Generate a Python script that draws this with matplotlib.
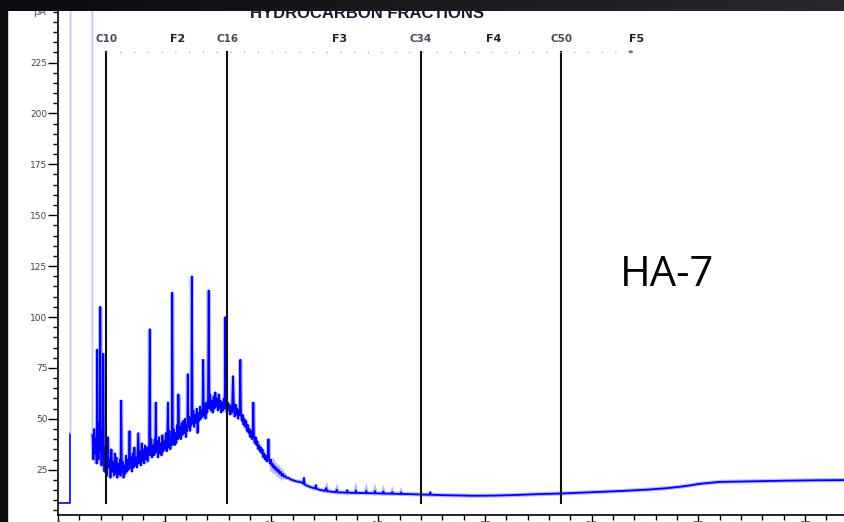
import matplotlib
matplotlib.use("Agg")
import matplotlib.pyplot as plt
import numpy as np
from matplotlib.colors import LinearSegmentedColormap
from matplotlib.patches import Rectangle
from matplotlib.ticker import MultipleLocator

# Fraction boundaries (retention time, min) and labels
cut_names = ["C10", "C16", "C34", "C50"]
cut_times = [2.27, 7.94, 17.0, 23.57]
frac_names = ["F2", "F3", "F4", "F5"]
frac_times = [5.62, 13.2, 20.4, 27.08]
sample_name = "HA-7"

# y tick values (pA)
y_ticks = [25, 50, 75, 100, 125, 150, 175, 200, 225]

# Start of the run: baseline then the solvent front
pre_time = [0.0, 0.585, 0.585]
pre_pa = [8.6, 8.6, 43]

# Solvent peak, off scale
solvent_time = [0.585, 0.59, 1.61, 1.615]
solvent_pa = [43, 400, 400, 42]

# Chromatogram after the solvent peak
trace_time = [
    1.62, 1.66, 1.70, 1.74, 1.78, 1.81, 1.84, 1.87, 1.90, 1.93, 1.96, 1.98, 2.01, 2.04,
    2.07, 2.10, 2.12, 2.15, 2.18, 2.21, 2.24, 2.27, 2.30,
    2.34, 2.38, 2.42, 2.46, 2.50, 2.54, 2.58, 2.62, 2.66, 2.70, 2.74, 2.78, 2.82, 2.86,
    2.90, 2.93, 2.96, 2.99, 3.03, 3.07, 3.11, 3.15, 3.19, 3.23, 3.27,
    3.31, 3.35, 3.38, 3.42, 3.46, 3.50, 3.54, 3.58, 3.62, 3.66, 3.70, 3.76, 3.80, 3.84,
    3.88, 3.92, 3.96, 4.00, 4.04, 4.08, 4.12, 4.16, 4.20, 4.24,
    4.27, 4.30, 4.33, 4.37, 4.41, 4.45, 4.49, 4.53, 4.56, 4.58, 4.61, 4.65, 4.69, 4.73,
    4.77, 4.81, 4.85, 4.89, 4.93, 4.97,
    5.01, 5.05, 5.09, 5.12, 5.15, 5.18, 5.22, 5.26, 5.30, 5.33, 5.35, 5.38, 5.42, 5.46,
    5.50, 5.54, 5.58, 5.62, 5.64, 5.67,
    5.71, 5.75, 5.79, 5.83, 5.87, 5.91, 5.95, 5.99, 6.03, 6.06, 6.08, 6.11, 6.15, 6.19,
    6.23, 6.25, 6.27, 6.30, 6.34, 6.38, 6.42, 6.46, 6.50, 6.54, 6.58, 6.62, 6.66, 6.70,
    6.74, 6.77, 6.80, 6.83,
    6.87, 6.91, 6.95, 6.99, 7.03, 7.06, 7.09, 7.13, 7.17, 7.21, 7.25, 7.29, 7.33, 7.37,
    7.41, 7.45, 7.49, 7.53, 7.57, 7.61, 7.65, 7.69, 7.73, 7.77, 7.81, 7.84, 7.87, 7.91, 7.95,
    7.99, 8.03, 8.07, 8.11, 8.15, 8.20, 8.24, 8.28, 8.32, 8.36, 8.40, 8.44, 8.48, 8.51,
    8.54, 8.57, 8.61, 8.65, 8.69, 8.73, 8.77, 8.81, 8.85, 8.89, 8.93, 8.97, 9.01, 9.05,
    9.09, 9.12, 9.15, 9.18, 9.22, 9.26, 9.30, 9.34, 9.38, 9.42, 9.46,
    9.50, 9.54, 9.58, 9.62, 9.66, 9.70, 9.74, 9.78, 9.82, 9.86, 9.89, 9.93, 9.97, 10.01,
    10.05, 10.09, 10.13, 10.18, 10.23, 10.28, 10.33, 10.38, 10.43, 10.48, 10.53, 10.58,
    10.64, 10.70, 10.78, 10.86, 10.94, 11.02, 11.10, 11.20, 11.30,
    11.40, 11.50, 11.52, 11.55, 11.70, 11.90, 12.05, 12.08, 12.11, 12.30, 12.50, 12.57,
    12.60, 12.80, 13.00, 13.06, 13.09, 13.30, 13.52, 13.55, 13.58, 13.92, 13.95, 13.98,
    14.41, 14.44, 14.47, 14.82, 14.85, 14.88, 15.21, 15.24, 15.27, 15.63, 15.66, 15.69,
    16.04, 16.07, 16.10, 16.50, 17.00, 17.41, 17.44, 17.47, 18.0, 19.0, 19.5, 20.5,
    21.5, 22.5, 23.57, 24.5, 25.5, 26.5, 27.6, 28.5, 29.2, 29.8, 30.0, 31.0, 32.5, 34.1,
    35.5, 36.8,
]
trace_pa = [
    42, 30, 45, 33, 40, 28, 84, 36, 30, 48, 34, 105, 38, 27,
    44, 32, 82, 30, 24, 36, 26, 33, 22,
    41, 26, 30, 21, 35, 24, 29, 22, 33, 23, 31, 21, 28, 23,
    30, 22, 59, 24, 29, 21, 27, 23, 32, 24, 30,
    25, 44, 26, 31, 24, 33, 26, 36, 27, 31, 26, 43, 28, 34,
    27, 38, 29, 35, 28, 37, 30, 36, 29, 34,
    38, 94, 32, 40, 31, 37, 32, 40, 33, 58, 34, 39, 31, 41,
    33, 38, 32, 42, 34, 39,
    35, 43, 34, 40, 58, 36, 44, 35, 41, 37, 112, 38, 45, 37,
    43, 38, 47, 40, 62, 41,
    46, 40, 48, 42, 49, 43, 50, 41, 47, 44, 72, 46, 51, 44,
    50, 47, 120, 48, 54, 46, 52, 48, 55, 43, 53, 49, 56, 50,
    54, 51, 79, 52,
    57, 50, 58, 53, 60, 113, 55, 62, 54, 59, 53, 61, 55, 63,
    56, 60, 54, 62, 55, 59, 53, 58, 54, 60, 55, 100, 57, 53, 58,
    54, 57, 52, 56, 53, 71, 55, 51, 57, 52, 55, 50, 54, 52,
    79, 53, 49, 52, 47, 50, 46, 49, 44, 47, 43, 45, 41, 44,
    40, 43, 58, 41, 38, 41, 37, 39, 35, 37, 34,
    36, 33, 35, 31, 33, 30, 32, 29, 31, 40, 30, 28, 30, 27,
    28, 26, 27, 25, 26, 24, 25, 23, 24, 22, 23, 21.5,
    22, 21, 21, 20.5, 20, 19.8, 19.5, 19.2, 19,
    18.8, 18.2, 21, 17.8, 17, 16.2, 15.8, 17.5, 15.6, 15, 14.6, 16,
    14.5, 14.2, 14.0, 15.2, 13.9, 13.8, 13.7, 15.0, 13.7, 13.6, 14.8, 13.6,
    13.5, 14.6, 13.5, 13.4, 14.5, 13.4, 13.3, 14.3, 13.3, 13.2, 14.0, 13.2,
    13.1, 13.8, 13.1, 13.0, 12.8, 12.7, 14.0, 12.7, 12.5, 12.3, 12.2, 12.3,
    12.6, 13.0, 13.3, 13.7, 14.1, 14.6, 15.2, 15.9, 16.7, 17.6, 18.0, 19.0, 19.3, 19.6,
    19.8, 19.9,
]

W, H = 844, 522
fig = plt.figure(figsize=(W / 100, H / 100), dpi=100)
fig.patch.set_facecolor("white")

# Axes placed so the y axis sits at x=58 px and the x axis at y=515 px
ax = fig.add_axes([58 / W, (H - 515) / H, 1 - 58 / W, 515 / H])
ax.set_xlim(0, 36.82)
ax.set_ylim(2.75, 255.7)

# Trace: light halo underneath, blue line on top
ax.plot(pre_time, pre_pa, color="#0000ff", lw=1.2)
ax.plot(solvent_time, solvent_pa, color="#c8c8ff", lw=1.4)
ax.plot(trace_time, trace_pa, color="#8080ff", lw=3.0, alpha=0.55, solid_joinstyle="miter")
ax.plot(trace_time, trace_pa, color="#0000ff", lw=1.3)

# Fraction cut lines and labels
top_v = 230.3
for name, t in zip(cut_names, cut_times):
    ax.plot([t, t], [8.6, top_v], color="#111111", lw=1.5)
    ax.text(t, 236.5, name, ha="center", va="center", fontsize=7.5,
            fontweight="bold", color="#4a4a5c")
for name, t in zip(frac_names, frac_times):
    ax.text(t, 236.5, name, ha="center", va="center", fontsize=8,
            fontweight="bold", color="#22222e")

# Dotted line across the fractions with a small arrow at the end
ax.plot([cut_times[0], 26.95], [top_v, top_v], color="#a8a8a8", lw=0.9,
        linestyle=(0, (1, 10)))
ax.annotate("", xy=(27.1, top_v), xytext=(26.6, top_v),
            arrowprops=dict(arrowstyle="->", color="#666666", lw=0.7, mutation_scale=5))

# Axes styling
for side in ["top", "right"]:
    ax.spines[side].set_visible(False)
for side in ["left", "bottom"]:
    ax.spines[side].set_linewidth(1.2)
ax.set_yticks(y_ticks)
ax.yaxis.set_minor_locator(MultipleLocator(5))
ax.xaxis.set_major_locator(MultipleLocator(5))
ax.xaxis.set_minor_locator(MultipleLocator(1))
ax.tick_params(axis="y", which="major", length=7.2, width=1.0, pad=0.5,
               labelsize=6.5, labelcolor="#444455")
ax.tick_params(axis="y", which="minor", length=3.6, width=1.0)
ax.tick_params(axis="x", which="major", length=5, width=1.0, pad=-1,
               labelsize=7, labelcolor="#444455")
ax.tick_params(axis="x", which="minor", length=3.6, width=1.0)

# Header texts
fig.text(367 / W, 1 - 18 / H, "HYDROCARBON FRACTIONS", ha="center", va="baseline",
         fontsize=12, fontweight="bold", family="Liberation Sans", color="#1a1a38")
fig.text(40 / W, 1 - 12 / H, "pA", ha="center", va="center", fontsize=7,
         color="#555566")
fig.text(667 / W, 1 - 275 / H, sample_name, ha="center", va="center", fontsize=30,
         family="Open Sans", color="black")

# Dark frame at the top and left edge
band = fig.add_axes([0, 1 - 11 / H, 1, 11 / H], zorder=10)
band.imshow(np.linspace(0, 1, 256)[None, :], aspect="auto",
            cmap=LinearSegmentedColormap.from_list("band", ["#0a0a0f", "#28282e"]))
band.axis("off")
fig.patches.append(Rectangle((0, 0), 7 / W, 1, transform=fig.transFigure,
                             color="#0b0b10", zorder=10))

fig.savefig("out.png", dpi=100)
